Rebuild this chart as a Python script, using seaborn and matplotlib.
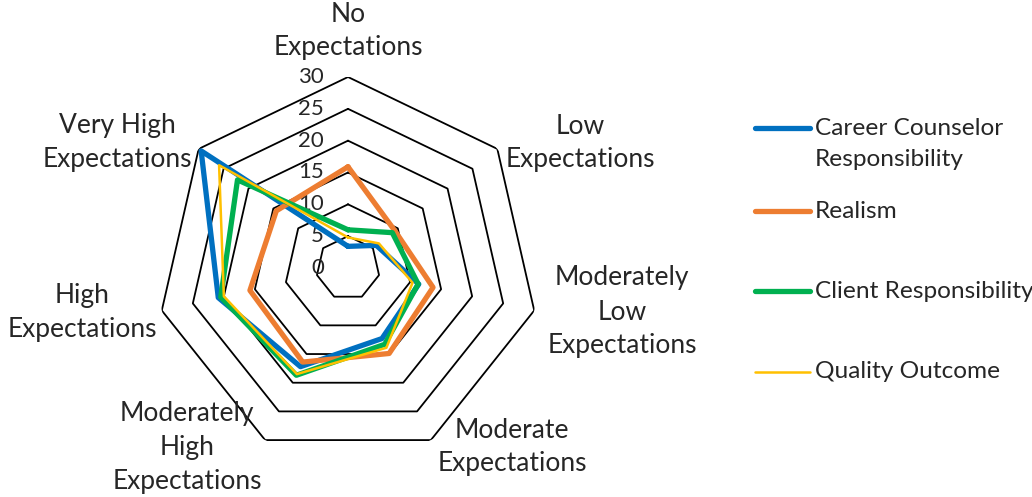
import numpy as np
import pandas as pd
import matplotlib
matplotlib.use("Agg")
import matplotlib.pyplot as plt
import matplotlib.transforms as mtransforms
from matplotlib.lines import Line2D
import seaborn as sns

# categories clockwise from the top
categories = ["No\nExpectations", "Low\nExpectations", "Moderately\nLow\nExpectations",
              "Moderate\nExpectations", "Moderately\nHigh\nExpectations",
              "High\nExpectations", "Very High\nExpectations"]

career_counselor = [3.4, 5.7, 11.4, 12.3, 17.2, 20.9, 29.5]
realism = [15.9, 9.4, 13.7, 14.9, 16.4, 15.8, 14.4]
client_resp = [6.0, 8.9, 11.3, 13.3, 18.7, 20.5, 22.2]
quality_outcome = [4.8, 6.2, 10.4, 13.9, 18.5, 20.0, 25.9]

series_names = ["Career Counselor\nResponsibility", "Realism", "Client Responsibility", "Quality Outcome"]
series_values = [career_counselor, realism, client_resp, quality_outcome]
colors = ["#0070C0", "#ED7D31", "#00B050", "#FFC000"]
widths = [3.8, 3.8, 3.8, 1.8]

r_ticks = [0, 5, 10, 15, 20, 25, 30]

sns.set_style("white")
plt.rcParams['font.family'] = ['Lato', 'DejaVu Sans']

W, H = 1032, 497
fig = plt.figure(figsize=(W / 100, H / 100), dpi=100)

# polar axes centred at (348, 268) px, radius ~191 px
cx, cy, rad = 348, 268, 191
ax = fig.add_axes([(cx - rad) / W, (H - cy - rad) / H, 2 * rad / W, 2 * rad / H], projection="polar")
ax.set_theta_offset(np.pi / 2)
ax.set_theta_direction(-1)
ax.set_ylim(0, 30)
ax.set_xticks([])
ax.set_yticks([])
ax.grid(False)
ax.spines["polar"].set_visible(False)
ax.patch.set_alpha(0)

n = len(categories)
angles = np.linspace(0, 2 * np.pi, n, endpoint=False)
closed = np.append(angles, angles[0])

# heptagon gridlines
for lev in r_ticks[1:]:
    ax.plot(closed, [lev] * (n + 1), color="black", lw=1.3, zorder=1)

# radial tick labels
off = mtransforms.offset_copy(ax.transData, fig=fig, x=-24, y=0, units="dots")
for lev in r_ticks:
    ax.text(0, lev, str(lev), transform=off, ha="right", va="center", fontsize=16)

# data
rows = []
for name, vals in zip(series_names, series_values):
    for a, v in zip(closed, list(vals) + [vals[0]]):
        rows.append({"angle": a, "value": v, "series": name})
df = pd.DataFrame(rows)

for i, (name, col, lw) in enumerate(zip(series_names, colors, widths)):
    sub = df[df["series"] == name]
    sns.lineplot(data=sub, x="angle", y="value", sort=False, estimator=None,
                 color=col, lw=lw, ax=ax, zorder=3 + i)
ax.set_xlabel("")
ax.set_ylabel("")
ax.set_ylim(0, 30)

# category labels
label_pos = [(348, 31), (580, 143), (622, 312), (512, 447), (187, 447), (82, 312), (117, 143)]
for lab, (px, py) in zip(categories, label_pos):
    fig.text(px / W, 1 - py / H, lab, ha="center", va="center", fontsize=19, linespacing=1.45)

# legend
leg_y = [128, 211, 291, 372]
for name, col, lw, ly in zip(series_names, colors, widths, leg_y):
    fig.add_artist(Line2D([755 / W, 810 / W], [1 - ly / H, 1 - ly / H], color=col, lw=lw,
                          solid_capstyle="round", transform=fig.transFigure))
    fig.text(815 / W, 1 - ly / H, name, ha="left", va="top" if "\n" in name else "center",
             fontsize=17.6, linespacing=1.6,
             transform=mtransforms.offset_copy(fig.transFigure, fig=fig, x=0,
                                               y=10 if "\n" in name else 0, units="dots"))

fig.savefig("out.png", dpi=100)
